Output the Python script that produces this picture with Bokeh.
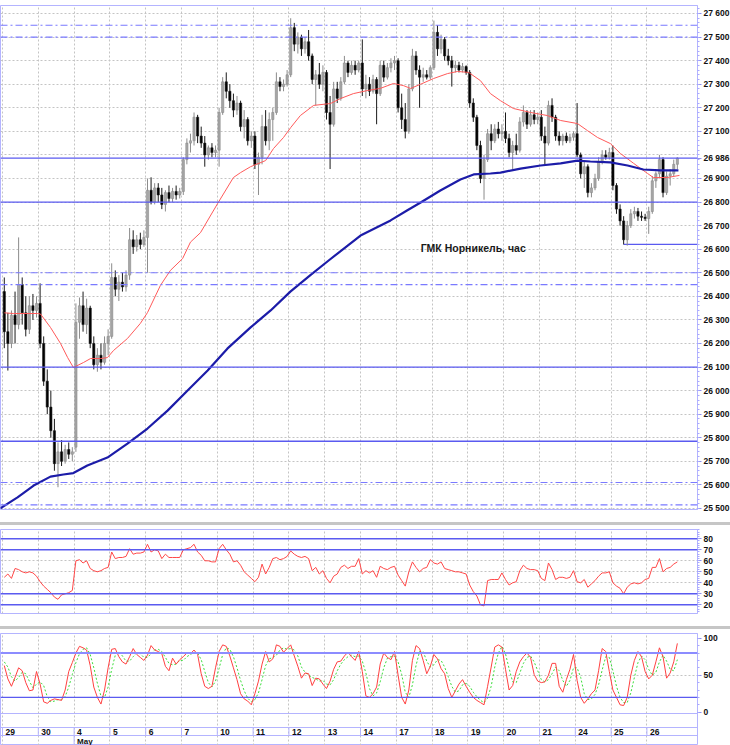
from bokeh.plotting import figure
from bokeh.models import Range1d, LinearAxis, FixedTicker, Span, Label, Div, Grid, ColumnDataSource
from bokeh.layouts import column
from bokeh.embed import file_html
from bokeh.resources import INLINE
from bokeh.core.properties import value

# ---------------- data ----------------
title_text = "ГМК Норникель, час"
day_labels = ["29", "30", "4", "5", "6", "7", "10", "11", "12", "13", "14", "17", "18", "19", "20", "21", "24", "25", "26"]
month_label = "May"
month_start_day = 2
bars_per_day = 10

opens = [
    26420, 26250, 26200, 26320, 26280, 26450, 26330, 26260, 26360, 26340,
    26370, 26200, 26040, 25930, 25830, 25690, 25740, 25700, 25750, 25730,
    25760, 26290, 26360, 26280, 26350, 26200, 26110, 26150, 26120, 26200,
    26230, 26480, 26430, 26460, 26440, 26490, 26640, 26610, 26640, 26620,
    26650, 26850, 26800, 26860, 26830, 26790, 26840, 26815, 26845, 26830,
    26845, 26980, 27050, 27060, 27160, 27080, 27050, 27000, 27030, 27010,
    27020, 27180, 27310, 27270, 27230, 27190, 27220, 27120, 27150, 27060,
    27080, 26960, 26990, 27120, 27060, 27150, 27180, 27310, 27290, 27300,
    27340, 27540, 27470, 27500, 27450, 27480, 27420, 27320, 27340, 27300,
    27350, 27180, 27130, 27280, 27240, 27310, 27390, 27350, 27380, 27360,
    27390, 27280, 27300, 27270, 27320, 27260, 27380, 27330, 27370, 27390,
    27400, 27200, 27150, 27100, 27280, 27420, 27360, 27330, 27340, 27330,
    27370, 27520, 27450, 27490, 27420, 27400, 27370, 27380, 27360, 27375,
    27350, 27220, 27160, 27040, 26900, 26980, 27090, 27060, 27110, 27090,
    27100, 27070, 27010, 27040, 27020, 27140, 27180, 27130, 27170, 27150,
    27160, 27080, 27050, 27210, 27160, 27080, 27060, 27080, 27060, 27075,
    27090, 27000, 26920, 26950, 26840, 26860, 26900, 26970, 27000, 26990,
    27010, 26870, 26770, 26720, 26640, 26700, 26750, 26760, 26740, 26735,
    26730, 26760, 26890, 26920, 26980, 26840, 26910, 26920, 26960]
highs = [
    26480, 26330, 26340, 26420, 26650, 26480, 26400, 26400, 26410, 26400,
    26455, 26230, 26090, 26000, 25880, 25780, 25790, 25770, 25780, 25760,
    26370, 26395, 26420, 26390, 26360, 26230, 26180, 26200, 26230, 26260,
    26540, 26510, 26490, 26500, 26510, 26690, 26680, 26660, 26670, 26680,
    26900, 26905, 26880, 26880, 26860, 26850, 26870, 26860, 26870, 26860,
    26990, 27070, 27090, 27180, 27170, 27120, 27080, 27040, 27050, 27040,
    27200, 27330, 27350, 27300, 27260, 27250, 27230, 27190, 27160, 27100,
    27100, 27010, 27170, 27190, 27180, 27200, 27350, 27330, 27320, 27360,
    27580, 27560, 27520, 27510, 27500, 27530, 27430, 27360, 27390, 27380,
    27360, 27250, 27310, 27310, 27330, 27420, 27400, 27400, 27400, 27400,
    27490, 27340, 27330, 27340, 27330, 27400, 27400, 27390, 27410, 27420,
    27410, 27260, 27220, 27300, 27450, 27440, 27380, 27370, 27360, 27380,
    27570, 27550, 27510, 27500, 27450, 27420, 27400, 27395, 27390, 27380,
    27360, 27240, 27170, 27060, 27000, 27110, 27130, 27130, 27140, 27130,
    27180, 27090, 27060, 27090, 27160, 27210, 27190, 27190, 27190, 27180,
    27190, 27120, 27230, 27240, 27170, 27100, 27090, 27095, 27090, 27100,
    27220, 27010, 26970, 26960, 26880, 26920, 26990, 27020, 27020, 27030,
    27040, 26880, 26790, 26740, 26720, 26770, 26780, 26775, 26760, 26750,
    26780, 26910, 26930, 27000, 26990, 26930, 26940, 26980, 26990]
lows = [
    26180, 26085, 26180, 26200, 26260, 26280, 26230, 26240, 26300, 26310,
    26180, 26020, 25900, 25800, 25660, 25590, 25680, 25690, 25710, 25700,
    25740, 26220, 26250, 26240, 26180, 26090, 26080, 26090, 26110, 26150,
    26220, 26400, 26380, 26420, 26420, 26470, 26580, 26590, 26600, 26610,
    26500, 26790, 26790, 26800, 26770, 26760, 26800, 26800, 26810, 26815,
    26830, 26960, 27010, 27040, 27050, 27030, 26950, 26980, 26990, 26990,
    26950, 27170, 27240, 27200, 27160, 27170, 27100, 27070, 27040, 27030,
    26940, 26830, 26960, 27040, 27020, 27060, 27170, 27270, 27270, 27290,
    27330, 27440, 27430, 27420, 27430, 27400, 27300, 27210, 27280, 27270,
    27150, 26940, 27120, 27220, 27230, 27300, 27330, 27340, 27340, 27350,
    27250, 27240, 27250, 27260, 27130, 27250, 27310, 27320, 27350, 27360,
    27180, 27110, 27070, 27090, 27270, 27340, 27200, 27310, 27320, 27320,
    27360, 27420, 27430, 27400, 27380, 27290, 27350, 27350, 27350, 27340,
    27200, 27140, 27020, 26880, 26810, 26970, 27020, 27050, 27070, 27060,
    27050, 26990, 26940, 27000, 27010, 27120, 27110, 27120, 27130, 27130,
    27060, 26960, 27040, 27140, 27060, 27040, 27040, 27050, 27050, 27060,
    26990, 26900, 26860, 26820, 26820, 26850, 26890, 26960, 26980, 26980,
    26850, 26750, 26700, 26620, 26615, 26690, 26730, 26720, 26720, 26720,
    26665, 26750, 26860, 26900, 26820, 26830, 26870, 26910, 26940]
closes = [
    26250, 26200, 26320, 26280, 26450, 26330, 26260, 26360, 26340, 26370,
    26200, 26040, 25930, 25830, 25690, 25740, 25700, 25750, 25730, 25740,
    26290, 26360, 26280, 26350, 26200, 26110, 26150, 26120, 26200, 26230,
    26480, 26430, 26460, 26440, 26490, 26640, 26610, 26640, 26620, 26650,
    26850, 26800, 26860, 26830, 26790, 26840, 26815, 26845, 26830, 26845,
    26980, 27050, 27060, 27160, 27080, 27050, 27000, 27030, 27010, 27020,
    27180, 27310, 27270, 27230, 27190, 27220, 27120, 27150, 27060, 27080,
    26960, 26990, 27120, 27060, 27150, 27180, 27310, 27290, 27300, 27340,
    27540, 27470, 27500, 27450, 27480, 27420, 27320, 27340, 27300, 27350,
    27180, 27130, 27280, 27240, 27310, 27390, 27350, 27380, 27360, 27390,
    27280, 27300, 27270, 27320, 27260, 27380, 27330, 27370, 27390, 27400,
    27200, 27150, 27100, 27280, 27420, 27360, 27330, 27340, 27330, 27370,
    27520, 27450, 27490, 27420, 27400, 27370, 27380, 27360, 27375, 27350,
    27220, 27160, 27040, 26900, 26980, 27090, 27060, 27110, 27090, 27100,
    27070, 27010, 27040, 27020, 27140, 27180, 27130, 27170, 27150, 27160,
    27080, 27050, 27210, 27160, 27080, 27060, 27080, 27060, 27075, 27090,
    27000, 26920, 26950, 26840, 26860, 26900, 26970, 27000, 26990, 27010,
    26870, 26770, 26720, 26640, 26700, 26750, 26760, 26740, 26735, 26730,
    26760, 26890, 26920, 26980, 26840, 26910, 26920, 26960, 26986]

red_ma_bar = [0, 2.6, 9.3, 10.1, 12.9, 15.7, 17.7, 19.3, 22.1, 24.1, 26.9, 28.8, 30.5, 34.4, 38, 40,
              43.6, 46.4, 49.8, 52, 54.8, 59.6, 64, 66, 68.8, 73, 75.2, 78, 80, 82.7, 86.4, 91.1,
              93.9, 97.5, 101.4, 105, 108.7, 111.5, 113.5, 116.3, 119.9, 123.8, 126.6, 129.7, 133,
              135.8, 138.6, 142.2, 147, 151.7, 155.4, 160.1, 162.9, 165.7, 169.3, 172.1, 175.8,
              179.7, 181.3, 185.2, 188.6]
red_ma = [26330, 26327, 26327, 26325, 26268, 26200, 26140, 26098, 26119, 26136, 26136, 26140, 26170,
          26221, 26285, 26331, 26446, 26510, 26560, 26630, 26670, 26794, 26904, 26925, 26950, 26976,
          27027, 27074, 27116, 27167, 27210, 27218, 27239, 27260, 27273, 27282, 27303, 27294, 27282,
          27300, 27324, 27345, 27354, 27350, 27315, 27260, 27230, 27197, 27180, 27167, 27146, 27133,
          27103, 27074, 27048, 27006, 26964, 26921, 26904, 26904, 26913]
blue_ma_bar = [-1.1, 3.7, 8.2, 12.9, 16.5, 19.3, 23.2, 28.8, 34.4, 40, 45.6, 51.2, 56.8, 62.3, 68.8,
               74.4, 79.9, 85.5, 90.6, 99.5, 107.9, 112.6, 116.3, 121.8, 127.4, 131.1, 135.8, 138.6,
               144.2, 149.8, 155.4, 160.1, 163.7, 169.3, 174.1, 178.5, 183.3, 188.3]
blue_ma = [25500, 25547, 25597, 25635, 25644, 25650, 25682, 25716, 25775, 25839, 25915, 26000, 26085,
           26178, 26268, 26340, 26420, 26490, 26552, 26658, 26722, 26765, 26798, 26849, 26896, 26917,
           26921, 26925, 26942, 26955, 26964, 26976, 26972, 26968, 26955, 26938, 26934, 26934]

rsi = [
    45, 48, 44, 53, 52, 50, 49, 50, 49, 46,
    41, 37, 34, 31, 27, 25, 29, 30, 31, 33,
    60, 61, 58, 60, 53, 51, 50, 51, 53, 54,
    68, 62, 63, 63, 64, 71, 66, 67, 67, 68,
    75, 68, 70, 69, 62, 66, 63, 63, 63, 63,
    70, 71, 72, 75, 68, 65, 60, 60, 59, 59,
    71, 75, 70, 66, 59, 60, 56, 50, 47, 44,
    41, 45, 57, 48, 54, 62, 63, 61, 62, 64,
    69, 66, 64, 63, 64, 62, 51, 54, 48, 51,
    44, 40, 46, 48, 54, 56, 53, 55, 55, 62,
    48, 51, 49, 51, 45, 55, 53, 52, 54, 55,
    47, 42, 37, 50, 59, 54, 50, 53, 54, 61,
    58, 57, 59, 53, 52, 51, 50, 50, 49, 48,
    38, 32, 28, 20, 19, 42, 43, 43, 43, 49,
    43, 38, 40, 41, 51, 56, 53, 52, 52, 51,
    44, 42, 58, 52, 43, 45, 45, 44, 45, 51,
    41, 40, 43, 36, 39, 42, 46, 49, 49, 50,
    40, 37, 35, 30, 36, 39, 40, 39, 40, 43,
    44, 54, 54, 62, 50, 53, 54, 57, 59]
stoch_k = [
    63, 45, 35, 47, 60, 56, 40, 29, 30, 55,
    38, 14, 12, 16, 18, 17, 16, 30, 55, 67,
    80, 89, 87, 84, 63, 34, 20, 11, 30, 60,
    85, 86, 75, 68, 65, 75, 86, 78, 74, 70,
    77, 90, 84, 82, 79, 62, 56, 73, 65, 71,
    75, 80, 79, 84, 78, 52, 35, 32, 35, 60,
    82, 91, 89, 76, 60, 44, 25, 18, 15, 10,
    25, 42, 65, 82, 68, 72, 91, 89, 81, 86,
    91, 76, 62, 46, 53, 52, 36, 46, 45, 38,
    32, 42, 58, 68, 69, 76, 81, 75, 70, 82,
    55, 22, 20, 25, 34, 65, 80, 74, 71, 82,
    50, 20, 11, 30, 70, 90, 86, 70, 52, 62,
    78, 72, 59, 52, 32, 20, 29, 38, 44, 35,
    27, 20, 16, 13, 10, 35, 61, 88, 91, 88,
    58, 30, 36, 55, 68, 75, 80, 74, 51, 42,
    40, 41, 50, 66, 66, 35, 27, 44, 58, 78,
    43, 20, 12, 18, 25, 30, 56, 86, 82, 55,
    30, 20, 10, 9, 20, 50, 70, 82, 75, 55,
    45, 50, 68, 87, 75, 46, 53, 68, 93]
stoch_d = [
    68, 61, 48, 42, 47, 54, 52, 42, 33, 38,
    41, 36, 21, 14, 15, 17, 17, 21, 34, 51,
    67, 79, 85, 87, 78, 60, 39, 22, 20, 34,
    58, 77, 82, 76, 69, 69, 75, 80, 79, 74,
    74, 79, 84, 85, 82, 74, 66, 64, 65, 70,
    70, 75, 78, 81, 80, 71, 55, 40, 34, 42,
    59, 78, 87, 85, 75, 60, 43, 29, 19, 14,
    17, 26, 44, 63, 72, 74, 77, 84, 87, 85,
    86, 84, 76, 61, 54, 50, 47, 45, 42, 43,
    38, 37, 44, 56, 65, 71, 75, 77, 75, 76,
    69, 53, 32, 22, 26, 41, 60, 73, 75, 76,
    68, 51, 27, 20, 37, 63, 82, 82, 69, 61,
    64, 71, 70, 61, 48, 35, 27, 29, 37, 39,
    35, 27, 21, 16, 13, 19, 35, 61, 80, 89,
    79, 59, 41, 40, 53, 66, 74, 76, 68, 56,
    44, 41, 44, 52, 61, 56, 43, 35, 43, 60,
    60, 47, 25, 17, 18, 24, 37, 57, 75, 74,
    56, 35, 20, 13, 13, 26, 47, 67, 76, 71,
    58, 50, 54, 68, 77, 69, 58, 56, 71]

price_ticks = list(range(25500, 27601, 100))
rsi_ticks = [20, 30, 40, 50, 60, 70, 80]
stoch_ticks = [0, 50, 100]
solid_levels = [26986, 26800, 26100, 25785]
dashdot_levels = [27550, 27500, 26500, 26450, 25610, 25515]
support_level = 26620
support_start = 173
rsi_levels = [80, 70, 30, 20]
last_price = 26986

# ---------------- styles ----------------
FONT = "Liberation Sans"
FRAME = "#b4b4ff"
LEVEL = "#5a5af0"
DASHD = "#7a7aff"
GRID = "#c4c4c4"

n = len(closes)
idx = list(range(n))
seps = [i * bars_per_day - 0.5 for i in range(len(day_labels))]
xr = Range1d(-1.06, 193.63)


def fmt_price(t):
    return f"{t // 1000} {t % 1000:03d}"


def base_fig(yr, fh, top, bottom):
    f = figure(frame_width=697, frame_height=fh, x_range=xr, y_range=yr, title=None,
               output_backend="svg", toolbar_location=None, x_axis_type=None, y_axis_type=None,
               min_border_left=0, min_border_right=33, min_border_top=top, min_border_bottom=bottom)
    f.outline_line_color = FRAME
    f.outline_line_width = 1
    f.background_fill_color = "white"
    f.border_fill_color = "white"
    return f


def right_axis(f, ticks, minor, overrides=None, bounds=None):
    ax = LinearAxis(ticker=FixedTicker(ticks=ticks, minor_ticks=minor))
    ax.axis_line_color = FRAME
    ax.major_tick_line_color = "#9090f0"
    ax.minor_tick_line_color = "#a8a8ff"
    ax.major_tick_in = 0
    ax.major_tick_out = 4
    ax.minor_tick_in = 0
    ax.minor_tick_out = 2
    ax.major_label_standoff = 2
    ax.major_label_text_font = FONT
    ax.major_label_text_font_style = "bold"
    ax.major_label_text_font_size = "8.5px"
    ax.major_label_text_color = "#101010"
    if overrides:
        ax.major_label_overrides = overrides
    if bounds:
        ax.bounds = bounds
    f.add_layout(ax, "right")
    return ax


def add_grid(f, xt, yt, ybounds=None):
    g1 = Grid(dimension=0, ticker=FixedTicker(ticks=xt), grid_line_color=GRID, grid_line_dash="2 2")
    if ybounds:
        g1.bounds = ybounds
    g2 = Grid(dimension=1, ticker=FixedTicker(ticks=yt), grid_line_color=GRID, grid_line_dash="2 2")
    f.add_layout(g1)
    f.add_layout(g2)


# ---------------- main panel ----------------
p = base_fig(Range1d(25495.5, 27633.9), 504, 5, 13)
add_grid(p, seps, price_ticks)
axis_ticks = sorted([t for t in price_ticks if abs(t - last_price) > 30] + [last_price])
labels = {t: fmt_price(t) for t in axis_ticks}
right_axis(p, axis_ticks, list(range(25500, 27621, 20)), labels)

for lv in dashdot_levels:
    p.add_layout(Span(location=lv, dimension="width", line_color=DASHD, line_width=1.2, line_dash="7 3 2 3"))
for lv in solid_levels:
    p.add_layout(Span(location=lv, dimension="width", line_color=LEVEL, line_width=1.3))
p.ray(x=[support_start], y=[support_level], length=0, angle=0, line_color=LEVEL, line_width=1.3)

up = [c >= o for o, c in zip(opens, closes)]
src = ColumnDataSource(dict(
    x=idx, o=opens, h=highs, l=lows, c=closes,
    top=[max(o, c) for o, c in zip(opens, closes)],
    bot=[min(o, c) for o, c in zip(opens, closes)],
    wick=["#8c8c8c" if u else "#1a1a1a" for u in up],
    body=["#a6a6a6" if u else "#000000" for u in up],
))
p.segment(x0="x", y0="l", x1="x", y1="h", source=src, line_color="wick", line_width=1)
p.vbar(x="x", width=0.62, top="top", bottom="bot", source=src, fill_color="body", line_color="wick", line_width=0.6)

p.line(red_ma_bar, red_ma, line_color="#ff5a5a", line_width=1)
p.line(blue_ma_bar, blue_ma, line_color="#1c1ca8", line_width=2.2)

p.add_layout(Label(x=116.3, y=26607, text=title_text, text_font=FONT, text_font_style="bold",
                   text_font_size="10.5px", text_color="#1a1a1a", text_baseline="middle", text_align="left"))

# ---------------- RSI panel ----------------
r = base_fig(Range1d(12.09, 88.45), 84, 4, 13)
add_grid(r, seps, rsi_ticks)
right_axis(r, rsi_ticks, list(range(12, 89, 2)))
for lv in rsi_levels:
    r.add_layout(Span(location=lv, dimension="width", line_color=LEVEL, line_width=1.4))
r.line(idx, rsi, line_color="#ff4848", line_width=1)

# ---------------- Stochastic panel + date row ----------------
def sv(ypix):
    return 100 - (ypix - 637.7) / 0.74

s = base_fig(Range1d(sv(745), sv(633)), 112, 4, 0)
add_grid(s, seps, [50], ybounds=(sv(713), sv(633)))
right_axis(s, stoch_ticks, list(range(0, 101, 10)), bounds=(sv(713), sv(633)))
s.add_layout(Span(location=80, dimension="width", line_color="#8c8cff", line_width=2.2))
s.add_layout(Span(location=20, dimension="width", line_color=LEVEL, line_width=1.4))
s.line(idx, stoch_d, line_color="#3cdc3c", line_width=1, line_dash="2 2")
s.line(idx, stoch_k, line_color="#ff4040", line_width=1)

for yy in (713, 727, 735):
    s.add_layout(Span(location=sv(yy), dimension="width", line_color=FRAME, line_width=1))
s.segment(x0=seps, y0=[sv(727)] * len(seps), x1=seps, y1=[sv(735)] * len(seps), line_color=FRAME, line_width=1)
s.text(x=seps, y=[sv(731.5)] * len(seps), text=day_labels, x_offset=3, text_font=value(FONT),
       text_font_style="bold", text_font_size="8.5px", text_color="#101010",
       text_baseline="middle", text_align="left")
ms = seps[month_start_day]
s.segment(x0=[ms], y0=[sv(735)], x1=[ms], y1=[sv(745)], line_color=FRAME, line_width=1)
s.text(x=[ms], y=[sv(740.5)], text=[month_label], x_offset=3, text_font=value(FONT),
       text_font_style="bold", text_font_size="8px", text_color="#101010",
       text_baseline="middle", text_align="left")

# ---------------- layout ----------------
def splitter():
    return Div(text="", width=730, height=3, margin=(0, 0, 0, 0),
               styles={"background-color": "#c6c6c6"})

layout = column(p, splitter(), r, splitter(), s, spacing=0)
open("out.html", "w").write(file_html(layout, INLINE))
